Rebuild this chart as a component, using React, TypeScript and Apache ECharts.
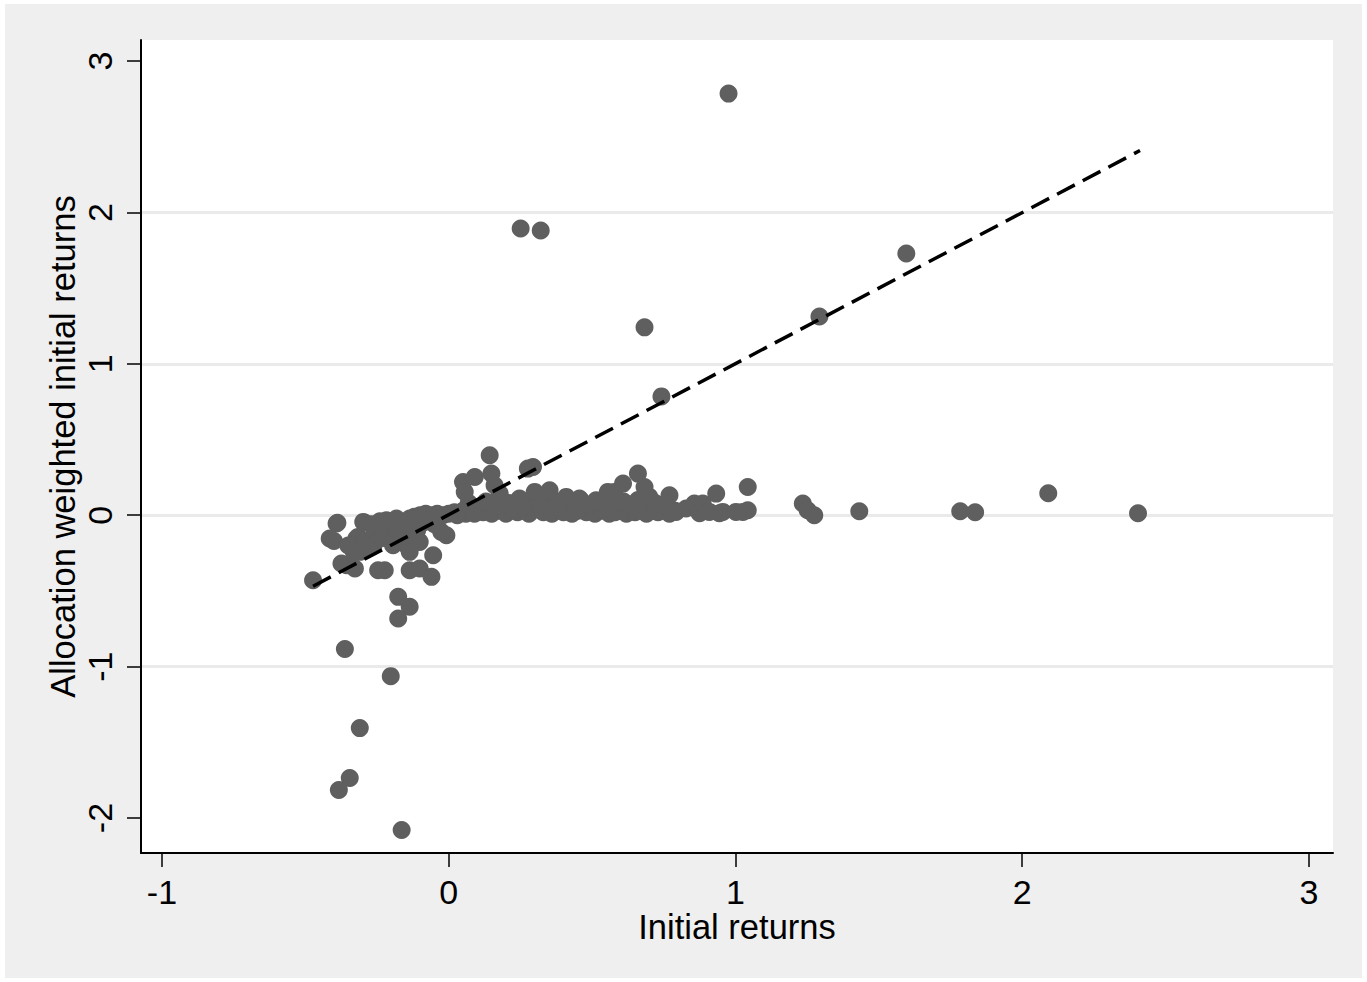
import React, { useEffect, useRef } from 'react';
import * as echarts from 'echarts';

const xTicks = [-1, 0, 1, 2, 3];
const yTicks = [-2, -1, 0, 1, 2, 3];
const xTitle = 'Initial returns';
const yTitle = 'Allocation weighted initial returns';

// points below zero (left cluster and deep negatives)
const leftCluster: [number, number][] = [
  [-0.473, -0.429], [-0.391, -0.055], [-0.388, -0.05], [-0.415, -0.154], [-0.4, -0.17],
  [-0.374, -0.319], [-0.356, -0.33], [-0.327, -0.352], [-0.322, -0.154], [-0.316, -0.143],
  [-0.298, -0.044], [-0.293, -0.05], [-0.281, -0.22], [-0.31, -0.242], [-0.264, -0.143],
  [-0.25, -0.1], [-0.246, -0.363], [-0.223, -0.363], [-0.217, -0.11], [-0.217, -0.033],
  [-0.194, -0.198], [-0.182, -0.022], [-0.171, -0.132], [-0.147, -0.198], [-0.136, -0.242],
  [-0.136, -0.022], [-0.136, -0.363], [-0.101, -0.176], [-0.101, -0.352], [-0.089, 0.0],
  [-0.06, -0.407], [-0.054, -0.264], [-0.043, 0.0], [-0.026, -0.11], [-0.008, -0.132],
  [-0.35, -0.2], [-0.33, -0.25], [-0.29, -0.17], [-0.26, -0.19], [-0.23, -0.15],
  [-0.2, -0.08], [-0.16, -0.06], [-0.12, -0.05], [-0.07, -0.03], [-0.19, -0.17],
  [-0.15, -0.13], [-0.11, -0.1], [-0.05, -0.06], [-0.27, -0.06], [-0.24, -0.04],
  [-0.18, -0.1], [-0.13, -0.08], [-0.09, -0.05],
];

const deepNegatives: [number, number][] = [
  [-0.176, -0.539], [-0.136, -0.605], [-0.176, -0.682], [-0.362, -0.884], [-0.202, -1.063],
  [-0.31, -1.406], [-0.345, -1.736], [-0.383, -1.815], [-0.164, -2.079],
];

// dense band around zero
const zeroBand: [number, number][] = [
  [-0.12, -0.01], [-0.1, 0.0], [-0.08, 0.01], [-0.06, 0.0], [-0.04, 0.01], [-0.02, 0.0],
  [0.0, 0.01], [0.02, 0.02], [0.03, 0.0], [0.05, 0.03], [0.06, 0.01], [0.08, 0.04],
  [0.09, 0.01], [0.11, 0.05], [0.12, 0.02], [0.14, 0.06], [0.15, 0.01], [0.17, 0.03],
  [0.19, 0.07], [0.2, 0.01], [0.22, 0.04], [0.24, 0.02], [0.25, 0.08], [0.27, 0.03],
  [0.28, 0.01], [0.3, 0.1], [0.31, 0.04], [0.33, 0.02], [0.34, 0.07], [0.36, 0.01],
  [0.37, 0.04], [0.39, 0.09], [0.4, 0.02], [0.42, 0.05], [0.43, 0.01], [0.45, 0.03],
  [0.46, 0.1], [0.48, 0.02], [0.5, 0.04], [0.51, 0.01], [0.53, 0.03], [0.55, 0.06],
  [0.56, 0.01], [0.58, 0.02], [0.6, 0.05], [0.62, 0.01], [0.63, 0.03], [0.65, 0.02],
  [0.67, 0.06], [0.69, 0.01], [0.71, 0.03], [0.73, 0.02], [0.75, 0.04], [0.77, 0.01],
  [0.79, 0.03], [0.514, 0.077], [0.538, 0.044], [0.596, 0.033], [0.642, 0.066],
  [0.671, 0.033], [0.724, 0.033], [0.747, 0.066], [0.793, 0.022], [0.828, 0.044],
  [0.857, 0.077], [0.875, 0.013], [0.886, 0.077], [0.909, 0.022], [0.944, 0.013],
  [0.956, 0.022], [1.002, 0.022], [1.026, 0.022], [1.043, 0.033],
  [0.07, 0.08], [0.13, 0.09], [0.21, 0.08], [0.26, 0.06], [0.32, 0.08], [0.38, 0.06],
  [0.44, 0.08], [0.49, 0.07], [0.57, 0.08], [0.61, 0.09], [0.66, 0.1], [0.72, 0.08],
];

// points sticking out just above the band
const bumpPoints: [number, number][] = [
  [0.05, 0.22], [0.056, 0.154], [0.091, 0.253], [0.143, 0.396], [0.149, 0.275],
  [0.16, 0.198], [0.178, 0.143], [0.276, 0.308], [0.294, 0.319], [0.247, 0.11],
  [0.3, 0.154], [0.352, 0.165], [0.41, 0.121], [0.456, 0.11], [0.514, 0.099],
  [0.555, 0.154], [0.578, 0.154], [0.608, 0.209], [0.66, 0.275], [0.683, 0.187],
  [0.7, 0.121], [0.77, 0.132], [0.933, 0.143], [1.043, 0.187],
];

const outliers: [number, number][] = [
  [0.976, 2.785], [0.251, 1.894], [0.321, 1.881], [1.596, 1.729], [0.683, 1.241],
  [1.293, 1.313], [0.742, 0.785], [2.091, 0.145], [2.404, 0.013], [1.836, 0.02],
  [1.784, 0.026], [1.432, 0.026], [1.235, 0.077], [1.252, 0.033], [1.275, 0.0],
];

const fitLine: [number, number][] = [[-0.473, -0.469], [2.411, 2.409]];

const FONT = "'Liberation Sans', Arial, Helvetica, sans-serif";

export default function App() {
  const ref = useRef<HTMLDivElement>(null);
  useEffect(() => {
    if (!ref.current) return;
    const chart = echarts.init(ref.current, null, { renderer: 'svg' });
    chart.setOption({
      animation: false,
      backgroundColor: '#EFEFEF',
      textStyle: { fontFamily: FONT },
      grid: {
        left: 136, top: 36, right: 29, bottom: 125,
        show: true, backgroundColor: '#ffffff', borderWidth: 0,
      },
      xAxis: {
        type: 'value', min: -1.073, max: 3.084,
        name: xTitle, nameLocation: 'middle', nameGap: 56, nameMoveOverlap: false,
        nameTextStyle: { fontSize: 34.5, color: '#000', fontFamily: FONT },
        axisLine: { show: true, onZero: false, lineStyle: { color: '#000', width: 2 } },
        axisTick: { show: true, length: 14, customValues: xTicks, lineStyle: { color: '#000', width: 1.5 } },
        axisLabel: { customValues: xTicks, fontSize: 34, color: '#000', margin: 22, fontFamily: FONT },
        splitLine: { show: false },
      },
      yAxis: {
        type: 'value', min: -2.231, max: 3.139,
        name: yTitle, nameLocation: 'middle', nameGap: 61, nameMoveOverlap: false,
        nameTextStyle: { fontSize: 34.5, color: '#000', fontFamily: FONT },
        axisLine: { show: true, onZero: false, lineStyle: { color: '#000', width: 2 } },
        axisTick: { show: true, length: 14, customValues: yTicks, lineStyle: { color: '#000', width: 1.5 } },
        axisLabel: { customValues: yTicks, rotate: 90, fontSize: 34, color: '#000', margin: 24, fontFamily: FONT },
        splitLine: { show: true, showMinLine: false, showMaxLine: false, lineStyle: { color: '#EAEAEA', width: 3 } },
      },
      series: [
        {
          type: 'scatter',
          data: [...zeroBand, ...leftCluster, ...deepNegatives, ...bumpPoints, ...outliers],
          symbol: 'circle', symbolSize: 18,
          itemStyle: { color: '#5F5F5F', opacity: 1 },
          z: 2,
        },
        {
          type: 'line',
          data: fitLine,
          symbol: 'none', showSymbol: false,
          lineStyle: { color: '#000', width: 3.5, type: [20, 9], cap: 'butt' },
          z: 3,
        },
      ],
    });
    return () => chart.dispose();
  }, []);
  return <div ref={ref} style={{ position: 'absolute', left: 5, top: 4, width: 1357, height: 974 }} />;
}
